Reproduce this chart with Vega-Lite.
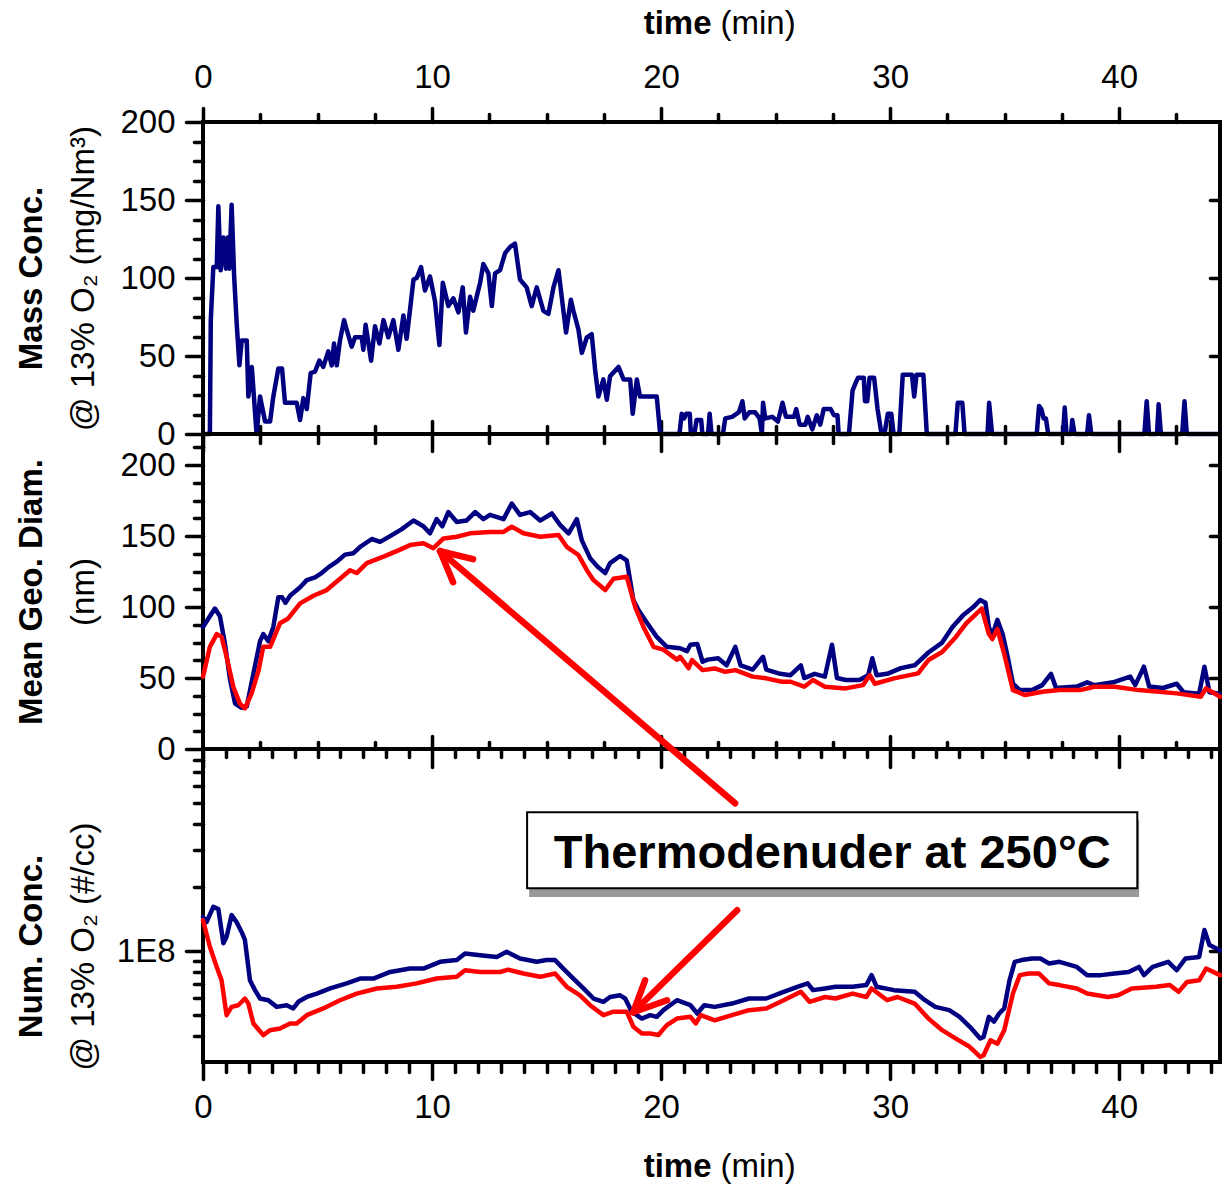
{
"$schema": "https://vega.github.io/schema/vega-lite/v6.json",
"usermeta": {"embedOptions": {"actions": false}},
"padding": {"left": 13, "top": 5, "right": 0, "bottom": 0},
"spacing": 0,
"bounds": "flush",
"config": {
  "view": {"stroke": "black", "strokeWidth": 4},
  "axis": {"domain": false, "grid": false, "tickColor": "black", "tickWidth": 3.5, "tickCap": "round", "labelFont": "Liberation Sans", "labelFontSize": 33, "labelColor": "black", "labelFlush": false, "labelOverlap": false, "labelBound": false, "titleFont": "Liberation Sans", "titleFontSize": 33, "titleColor": "black", "titleFontWeight": "normal"}
},
"datasets": {
  "mass": [
    {"t":0,"v":0},{"t":0.30,"v":0},{"t":0.34,"v":73},{"t":0.45,"v":107},{"t":0.60,"v":107},{"t":0.67,"v":146},{"t":0.77,"v":105},{"t":0.89,"v":126},{"t":1.00,"v":106},{"t":1.08,"v":126},{"t":1.15,"v":106},{"t":1.25,"v":147},{"t":1.36,"v":101},{"t":1.47,"v":71},{"t":1.59,"v":44},{"t":1.69,"v":60},{"t":1.91,"v":60},{"t":1.98,"v":24},{"t":2.13,"v":43},{"t":2.34,"v":0},{"t":2.49,"v":24},{"t":2.71,"v":8},{"t":2.93,"v":8},{"t":3.07,"v":24},{"t":3.29,"v":42},{"t":3.45,"v":42},{"t":3.58,"v":20},{"t":4.09,"v":20},{"t":4.24,"v":9},{"t":4.38,"v":23},{"t":4.53,"v":16},{"t":4.70,"v":39},{"t":4.89,"v":40},{"t":5.08,"v":47},{"t":5.25,"v":43},{"t":5.47,"v":53},{"t":5.62,"v":44},{"t":5.72,"v":58},{"t":5.84,"v":44},{"t":5.98,"v":60},{"t":6.16,"v":73},{"t":6.27,"v":67},{"t":6.49,"v":56},{"t":6.64,"v":62},{"t":6.93,"v":62},{"t":7.00,"v":54},{"t":7.10,"v":70},{"t":7.34,"v":47},{"t":7.51,"v":69},{"t":7.70,"v":58},{"t":7.88,"v":73},{"t":8.09,"v":62},{"t":8.31,"v":73},{"t":8.53,"v":54},{"t":8.75,"v":76},{"t":8.89,"v":61},{"t":9.04,"v":80},{"t":9.19,"v":99},{"t":9.33,"v":100},{"t":9.52,"v":107},{"t":9.69,"v":92},{"t":9.91,"v":101},{"t":10.13,"v":85},{"t":10.32,"v":57},{"t":10.47,"v":97},{"t":10.71,"v":82},{"t":10.93,"v":87},{"t":11.15,"v":78},{"t":11.34,"v":94},{"t":11.48,"v":65},{"t":11.66,"v":88},{"t":11.80,"v":79},{"t":11.98,"v":90},{"t":12.10,"v":97},{"t":12.24,"v":109},{"t":12.46,"v":103},{"t":12.61,"v":82},{"t":12.75,"v":103},{"t":12.97,"v":105},{"t":13.19,"v":116},{"t":13.41,"v":120},{"t":13.62,"v":122},{"t":13.84,"v":99},{"t":14.13,"v":94},{"t":14.35,"v":82},{"t":14.57,"v":94},{"t":14.86,"v":79},{"t":15.08,"v":77},{"t":15.30,"v":94},{"t":15.52,"v":105},{"t":15.66,"v":88},{"t":15.85,"v":65},{"t":16.06,"v":86},{"t":16.17,"v":79},{"t":16.39,"v":67},{"t":16.54,"v":52},{"t":16.76,"v":62},{"t":16.97,"v":64},{"t":17.12,"v":41},{"t":17.26,"v":24},{"t":17.48,"v":35},{"t":17.63,"v":22},{"t":17.77,"v":37},{"t":18.14,"v":43},{"t":18.36,"v":35},{"t":18.65,"v":35},{"t":18.76,"v":13},{"t":18.94,"v":35},{"t":19.08,"v":24},{"t":19.81,"v":24},{"t":19.96,"v":0},{"t":20.80,"v":0},{"t":20.90,"v":13},{"t":21.00,"v":10},{"t":21.10,"v":13},{"t":21.25,"v":13},{"t":21.30,"v":0},{"t":21.45,"v":0},{"t":21.55,"v":9},{"t":21.75,"v":9},{"t":21.80,"v":0},{"t":22.05,"v":0},{"t":22.12,"v":13},{"t":22.20,"v":0},{"t":22.70,"v":0},{"t":22.80,"v":10},{"t":23.10,"v":11},{"t":23.40,"v":14},{"t":23.55,"v":21},{"t":23.65,"v":10},{"t":23.85,"v":14},{"t":24.10,"v":14},{"t":24.30,"v":10},{"t":24.40,"v":0},{"t":24.45,"v":20},{"t":24.55,"v":10},{"t":24.85,"v":11},{"t":25.10,"v":8},{"t":25.30,"v":20},{"t":25.45,"v":11},{"t":25.80,"v":11},{"t":25.90,"v":16},{"t":26.05,"v":6},{"t":26.30,"v":6},{"t":26.40,"v":11},{"t":26.60,"v":3},{"t":26.80,"v":12},{"t":26.95,"v":6},{"t":27.10,"v":16},{"t":27.40,"v":16},{"t":27.55,"v":12},{"t":27.70,"v":12},{"t":27.75,"v":0},{"t":28.20,"v":0},{"t":28.36,"v":28},{"t":28.50,"v":33},{"t":28.60,"v":36},{"t":28.85,"v":36},{"t":28.90,"v":21},{"t":29.00,"v":21},{"t":29.10,"v":36},{"t":29.30,"v":36},{"t":29.45,"v":16},{"t":29.60,"v":2},{"t":29.75,"v":0},{"t":29.90,"v":13},{"t":30.05,"v":13},{"t":30.15,"v":0},{"t":30.40,"v":0},{"t":30.55,"v":38},{"t":30.95,"v":38},{"t":31.05,"v":24},{"t":31.15,"v":38},{"t":31.45,"v":38},{"t":31.60,"v":0},{"t":32.85,"v":0},{"t":32.95,"v":20},{"t":33.15,"v":20},{"t":33.25,"v":0},{"t":34.25,"v":0},{"t":34.32,"v":20},{"t":34.45,"v":0},{"t":36.40,"v":0},{"t":36.50,"v":18},{"t":36.60,"v":16},{"t":36.70,"v":10},{"t":36.80,"v":10},{"t":36.90,"v":0},{"t":37.55,"v":0},{"t":37.62,"v":17},{"t":37.70,"v":0},{"t":37.90,"v":0},{"t":37.95,"v":9},{"t":38.05,"v":0},{"t":38.60,"v":0},{"t":38.68,"v":12},{"t":38.78,"v":0},{"t":41.10,"v":0},{"t":41.20,"v":21},{"t":41.30,"v":0},{"t":41.65,"v":0},{"t":41.72,"v":19},{"t":41.82,"v":0},{"t":42.75,"v":0},{"t":42.85,"v":21},{"t":42.95,"v":0},{"t":44.4,"v":0}
  ],
  "diaB": [
    {"t":0,"v":86},{"t":0.30,"v":93.5},{"t":0.52,"v":99},{"t":0.74,"v":93.5},{"t":0.96,"v":74},{"t":1.18,"v":49},{"t":1.40,"v":32},{"t":1.69,"v":29},{"t":1.91,"v":30},{"t":2.20,"v":53},{"t":2.49,"v":76},{"t":2.63,"v":81},{"t":2.85,"v":76},{"t":3.07,"v":86},{"t":3.29,"v":107},{"t":3.45,"v":107},{"t":3.60,"v":103},{"t":3.80,"v":108},{"t":4.24,"v":114},{"t":4.53,"v":119},{"t":4.89,"v":121},{"t":5.18,"v":124},{"t":5.47,"v":128},{"t":5.84,"v":132},{"t":6.20,"v":137},{"t":6.57,"v":138},{"t":6.86,"v":142.5},{"t":7.37,"v":148},{"t":7.73,"v":146},{"t":8.17,"v":150},{"t":8.68,"v":155},{"t":9.19,"v":161},{"t":9.62,"v":157},{"t":9.91,"v":152},{"t":10.20,"v":162},{"t":10.45,"v":157},{"t":10.71,"v":167},{"t":11.08,"v":160},{"t":11.50,"v":161},{"t":11.88,"v":167},{"t":12.24,"v":162},{"t":12.53,"v":165},{"t":13.12,"v":162},{"t":13.48,"v":173},{"t":13.84,"v":165},{"t":14.28,"v":167},{"t":14.72,"v":161},{"t":15.23,"v":166},{"t":15.59,"v":158},{"t":15.96,"v":152},{"t":16.32,"v":162},{"t":16.54,"v":147},{"t":16.90,"v":134.5},{"t":17.26,"v":128},{"t":17.56,"v":124},{"t":17.77,"v":131},{"t":18.21,"v":136},{"t":18.50,"v":133},{"t":18.79,"v":105},{"t":19.01,"v":98},{"t":19.38,"v":89},{"t":19.81,"v":79},{"t":20.25,"v":72},{"t":20.83,"v":71},{"t":21.13,"v":69},{"t":21.28,"v":73.5},{"t":21.58,"v":74},{"t":21.81,"v":61.5},{"t":22.03,"v":63},{"t":22.49,"v":64},{"t":22.86,"v":59},{"t":23.24,"v":72},{"t":23.47,"v":59},{"t":24.00,"v":56},{"t":24.45,"v":65},{"t":24.59,"v":56},{"t":25.20,"v":53},{"t":25.65,"v":52},{"t":26.10,"v":59},{"t":26.25,"v":50},{"t":26.70,"v":53},{"t":27.15,"v":51},{"t":27.46,"v":73.5},{"t":27.68,"v":50},{"t":28.06,"v":48.6},{"t":28.66,"v":48.6},{"t":29.04,"v":52},{"t":29.22,"v":64},{"t":29.41,"v":52},{"t":29.87,"v":53},{"t":30.47,"v":57},{"t":31.07,"v":59},{"t":31.67,"v":68},{"t":32.27,"v":75},{"t":32.72,"v":86},{"t":33.17,"v":94},{"t":33.63,"v":100},{"t":33.93,"v":105},{"t":34.16,"v":103},{"t":34.31,"v":86},{"t":34.46,"v":80},{"t":34.68,"v":91},{"t":34.91,"v":81},{"t":35.13,"v":65},{"t":35.36,"v":46},{"t":35.66,"v":41.5},{"t":36.19,"v":41.5},{"t":36.64,"v":45},{"t":37.02,"v":53},{"t":37.24,"v":43},{"t":38.15,"v":44},{"t":38.60,"v":47},{"t":38.90,"v":45},{"t":39.73,"v":47},{"t":40.48,"v":51},{"t":40.70,"v":45},{"t":41.08,"v":58},{"t":41.31,"v":44},{"t":41.91,"v":43},{"t":42.51,"v":46},{"t":42.81,"v":40},{"t":43.49,"v":39},{"t":43.72,"v":58},{"t":43.94,"v":40},{"t":44.4,"v":39}
  ],
  "diaR": [
    {"t":0,"v":51},{"t":0.30,"v":72},{"t":0.60,"v":81},{"t":0.81,"v":79},{"t":1.03,"v":65},{"t":1.32,"v":44},{"t":1.61,"v":32},{"t":1.83,"v":28.6},{"t":2.12,"v":39},{"t":2.42,"v":55},{"t":2.63,"v":72},{"t":2.93,"v":72},{"t":3.36,"v":88.6},{"t":3.72,"v":92},{"t":4.24,"v":102.6},{"t":4.82,"v":108},{"t":5.40,"v":112},{"t":5.84,"v":118},{"t":6.42,"v":126},{"t":6.71,"v":124},{"t":7.15,"v":131},{"t":7.88,"v":135.6},{"t":8.53,"v":140},{"t":9.04,"v":143.7},{"t":9.62,"v":145},{"t":10.06,"v":141.5},{"t":10.50,"v":148.4},{"t":11.08,"v":149.6},{"t":11.66,"v":152},{"t":12.53,"v":153},{"t":13.12,"v":153},{"t":13.48,"v":156.7},{"t":13.99,"v":152},{"t":14.72,"v":149.6},{"t":15.52,"v":150.8},{"t":15.88,"v":142.5},{"t":16.39,"v":136.7},{"t":16.76,"v":126},{"t":17.05,"v":119},{"t":17.56,"v":112},{"t":17.92,"v":120},{"t":18.50,"v":121.4},{"t":18.87,"v":100},{"t":19.23,"v":86},{"t":19.67,"v":72},{"t":20.10,"v":70},{"t":20.69,"v":63},{"t":20.83,"v":65},{"t":21.20,"v":57},{"t":21.35,"v":62.7},{"t":21.81,"v":55.6},{"t":22.34,"v":56.8},{"t":22.80,"v":54.4},{"t":23.24,"v":55.6},{"t":24.00,"v":51},{"t":24.59,"v":49.8},{"t":25.27,"v":47.4},{"t":25.65,"v":47.4},{"t":26.25,"v":43.9},{"t":26.63,"v":48.6},{"t":27.15,"v":43.9},{"t":28.06,"v":42.7},{"t":28.81,"v":45},{"t":29.11,"v":52},{"t":29.33,"v":46},{"t":30.17,"v":49.8},{"t":31.22,"v":53.3},{"t":31.67,"v":62.7},{"t":32.27,"v":68.4},{"t":32.87,"v":79},{"t":33.32,"v":88.6},{"t":34.00,"v":99},{"t":34.31,"v":81},{"t":34.46,"v":77.5},{"t":34.68,"v":84.5},{"t":34.98,"v":67},{"t":35.36,"v":41.5},{"t":35.89,"v":38},{"t":36.64,"v":40.4},{"t":37.39,"v":41.5},{"t":38.30,"v":41.5},{"t":38.90,"v":43.9},{"t":39.80,"v":43.9},{"t":40.86,"v":41.5},{"t":42.51,"v":39.2},{"t":43.56,"v":36.8},{"t":43.79,"v":42.7},{"t":44.4,"v":36.8}
  ],
  "numB": [
    {"t":0,"v":1.45e8},{"t":0.15,"v":1.37e8},{"t":0.45,"v":1.62e8},{"t":0.67,"v":1.58e8},{"t":0.89,"v":1.09e8},{"t":1.03,"v":1.17e8},{"t":1.25,"v":1.48e8},{"t":1.47,"v":1.37e8},{"t":1.69,"v":1.23e8},{"t":1.83,"v":1.13e8},{"t":2.05,"v":7.29e7},{"t":2.27,"v":6.55e7},{"t":2.49,"v":5.98e7},{"t":2.85,"v":5.87e7},{"t":3.22,"v":5.46e7},{"t":3.65,"v":5.56e7},{"t":3.94,"v":5.37e7},{"t":4.16,"v":5.77e7},{"t":4.53,"v":6.08e7},{"t":4.97,"v":6.31e7},{"t":5.55,"v":6.67e7},{"t":6.27,"v":7.05e7},{"t":6.86,"v":7.43e7},{"t":7.44,"v":7.43e7},{"t":8.17,"v":7.98e7},{"t":9.04,"v":8.28e7},{"t":9.62,"v":8.28e7},{"t":10.35,"v":8.91e7},{"t":11.08,"v":9.08e7},{"t":11.44,"v":9.75e7},{"t":12.10,"v":9.57e7},{"t":12.82,"v":9.40e7},{"t":13.26,"v":9.93e7},{"t":13.84,"v":9.23e7},{"t":14.57,"v":8.91e7},{"t":15.00,"v":9.08e7},{"t":15.37,"v":9.08e7},{"t":15.73,"v":8.28e7},{"t":16.17,"v":7.43e7},{"t":16.61,"v":6.67e7},{"t":17.05,"v":5.98e7},{"t":17.48,"v":5.77e7},{"t":17.77,"v":6.08e7},{"t":18.21,"v":6.19e7},{"t":18.43,"v":5.98e7},{"t":18.72,"v":5.18e7},{"t":19.16,"v":4.81e7},{"t":19.52,"v":4.99e7},{"t":19.81,"v":4.90e7},{"t":20.10,"v":5.27e7},{"t":20.69,"v":5.87e7},{"t":21.28,"v":5.56e7},{"t":21.58,"v":5.08e7},{"t":21.88,"v":5.56e7},{"t":22.34,"v":5.46e7},{"t":23.09,"v":5.66e7},{"t":23.84,"v":5.98e7},{"t":24.59,"v":5.98e7},{"t":25.35,"v":6.43e7},{"t":25.95,"v":6.79e7},{"t":26.40,"v":7.05e7},{"t":26.63,"v":6.55e7},{"t":27.15,"v":6.67e7},{"t":27.61,"v":6.79e7},{"t":28.36,"v":6.79e7},{"t":28.96,"v":6.92e7},{"t":29.19,"v":7.71e7},{"t":29.41,"v":6.79e7},{"t":30.17,"v":6.55e7},{"t":31.07,"v":6.43e7},{"t":31.52,"v":5.87e7},{"t":31.97,"v":5.46e7},{"t":32.58,"v":5.27e7},{"t":33.03,"v":4.90e7},{"t":33.48,"v":4.40e7},{"t":33.93,"v":3.87e7},{"t":34.08,"v":3.94e7},{"t":34.31,"v":4.90e7},{"t":34.53,"v":4.65e7},{"t":34.76,"v":5.08e7},{"t":34.98,"v":5.37e7},{"t":35.21,"v":7.29e7},{"t":35.44,"v":8.91e7},{"t":35.74,"v":9.08e7},{"t":36.19,"v":9.23e7},{"t":36.56,"v":9.23e7},{"t":36.94,"v":8.75e7},{"t":37.39,"v":8.91e7},{"t":38.15,"v":8.43e7},{"t":38.60,"v":7.71e7},{"t":39.20,"v":7.71e7},{"t":39.80,"v":7.85e7},{"t":40.41,"v":7.98e7},{"t":40.86,"v":8.43e7},{"t":41.08,"v":7.71e7},{"t":41.46,"v":8.43e7},{"t":42.14,"v":8.91e7},{"t":42.51,"v":8.13e7},{"t":42.89,"v":9.23e7},{"t":43.49,"v":9.40e7},{"t":43.72,"v":1.26e8},{"t":43.94,"v":1.07e8},{"t":44.4,"v":1.01e8}
  ],
  "numR": [
    {"t":0,"v":1.40e8},{"t":0.30,"v":1.05e8},{"t":0.60,"v":8.43e7},{"t":0.81,"v":7.29e7},{"t":1.03,"v":4.99e7},{"t":1.25,"v":5.46e7},{"t":1.54,"v":5.56e7},{"t":1.83,"v":5.98e7},{"t":1.98,"v":5.66e7},{"t":2.20,"v":4.56e7},{"t":2.63,"v":4.02e7},{"t":2.93,"v":4.24e7},{"t":3.36,"v":4.32e7},{"t":3.80,"v":4.56e7},{"t":4.09,"v":4.56e7},{"t":4.53,"v":4.99e7},{"t":5.25,"v":5.37e7},{"t":5.98,"v":5.87e7},{"t":6.71,"v":6.31e7},{"t":7.59,"v":6.67e7},{"t":8.46,"v":6.79e7},{"t":9.33,"v":7.05e7},{"t":10.20,"v":7.43e7},{"t":11.08,"v":7.57e7},{"t":11.44,"v":8.13e7},{"t":12.10,"v":7.98e7},{"t":12.97,"v":7.98e7},{"t":13.33,"v":8.18e7},{"t":13.99,"v":7.85e7},{"t":14.72,"v":7.57e7},{"t":15.37,"v":7.85e7},{"t":15.88,"v":6.79e7},{"t":16.46,"v":6.19e7},{"t":16.90,"v":5.56e7},{"t":17.48,"v":4.99e7},{"t":17.92,"v":5.18e7},{"t":18.50,"v":5.18e7},{"t":18.79,"v":4.40e7},{"t":19.16,"v":4.09e7},{"t":19.52,"v":4.09e7},{"t":19.88,"v":4.02e7},{"t":20.25,"v":4.48e7},{"t":20.69,"v":4.81e7},{"t":21.28,"v":4.90e7},{"t":21.51,"v":4.56e7},{"t":21.73,"v":4.99e7},{"t":22.34,"v":4.72e7},{"t":23.09,"v":4.99e7},{"t":23.84,"v":5.27e7},{"t":24.59,"v":5.37e7},{"t":25.35,"v":5.87e7},{"t":26.10,"v":6.43e7},{"t":26.48,"v":5.77e7},{"t":27.16,"v":6.08e7},{"t":27.61,"v":5.98e7},{"t":28.36,"v":6.31e7},{"t":28.96,"v":6.08e7},{"t":29.19,"v":6.67e7},{"t":29.87,"v":5.87e7},{"t":30.32,"v":6.08e7},{"t":31.07,"v":5.66e7},{"t":31.67,"v":4.81e7},{"t":32.27,"v":4.24e7},{"t":32.87,"v":3.87e7},{"t":33.47,"v":3.54e7},{"t":33.93,"v":3.17e7},{"t":34.08,"v":3.23e7},{"t":34.38,"v":3.80e7},{"t":34.68,"v":3.66e7},{"t":34.98,"v":4.24e7},{"t":35.36,"v":6.31e7},{"t":35.66,"v":7.71e7},{"t":36.04,"v":7.85e7},{"t":36.49,"v":7.85e7},{"t":36.94,"v":7.05e7},{"t":37.39,"v":6.92e7},{"t":38.15,"v":6.67e7},{"t":38.60,"v":6.31e7},{"t":39.50,"v":6.08e7},{"t":39.95,"v":6.19e7},{"t":40.55,"v":6.67e7},{"t":41.61,"v":6.79e7},{"t":42.21,"v":6.92e7},{"t":42.59,"v":6.43e7},{"t":42.96,"v":7.16e7},{"t":43.49,"v":7.29e7},{"t":43.79,"v":8.28e7},{"t":44.4,"v":7.71e7}
  ],
  "shadow": [{"x1":14.24,"x2":40.87,"y1":4.15e8,"y2":1.80e8}],
  "box": [{"x1":14.15,"x2":40.79,"y1":4.53e8,"y2":1.98e8}],
  "label": [{"t":27.47,"v":2.47e8,"text":"Thermodenuder at 250°C"}],
  "arrows": [
    {"x1":23.23,"y1":4.99e8,"x2":10.35,"y2":7.73e9},
    {"x1":10.35,"y1":7.73e9,"x2":11.79,"y2":7.08e9},
    {"x1":10.35,"y1":7.73e9,"x2":10.92,"y2":5.51e9},
    {"x1":23.32,"y1":1.56e8,"x2":18.78,"y2":5.15e7},
    {"x1":18.78,"y1":5.15e7,"x2":20.26,"y2":5.87e7},
    {"x1":18.78,"y1":5.15e7,"x2":19.30,"y2":7.29e7}
  ]
},
"vconcat": [
  {
    "width": 1017, "height": 312,
    "resolve": {"axis": {"x": "independent", "y": "independent"}},
    "layer": [
      {
        "data": {"name": "mass"},
        "mark": {"type": "line", "color": "#000080", "strokeWidth": 4.5, "strokeJoin": "round", "strokeCap": "round"},
        "encoding": {
          "x": {"field": "t", "type": "quantitative", "scale": {"domain": [0, 44.4], "nice": false, "zero": false},
                "axis": {"orient": "top", "values": [0,10,20,30,40], "tickSize": 14, "labelPadding": 21, "labelBaseline": "alphabetic", "title": "(min)", "titleAngle": 0, "titleAlign": "left", "titleBaseline": "alphabetic", "titleX": 517, "titleY": -89}},
          "y": {"field": "v", "type": "quantitative", "scale": {"domain": [0, 200], "nice": false, "zero": false},
                "axis": {"orient": "left", "values": [0,50,100,150,200], "tickSize": 17, "labelPadding": 11, "title": "@ 13% O₂ (mg/Nm³)", "titleAngle": 270, "titleAlign": "center", "titleBaseline": "middle", "titleX": -120, "titleY": 156}}
        }
      },
      {
        "data": {"name": "mass"},
        "mark": {"type": "line", "opacity": 0},
        "encoding": {
          "x": {"field": "t", "type": "quantitative", "scale": {"domain": [0, 44.4], "nice": false, "zero": false},
                "axis": {"orient": "top", "values": [2.5,5,7.5,12.5,15,17.5,22.5,25,27.5,32.5,35,37.5,42.5], "tickSize": 8, "labels": false, "title": "time", "titleFontWeight": "bold", "titleAngle": 0, "titleAlign": "right", "titleBaseline": "alphabetic", "titleX": 508, "titleY": -89}},
          "y": {"field": "v", "type": "quantitative", "scale": {"domain": [0, 200], "nice": false, "zero": false},
                "axis": {"orient": "left", "values": [12.5,25,37.5,62.5,75,87.5,112.5,125,137.5,162.5,175,187.5], "tickSize": 9, "labels": false, "title": "Mass Conc.", "titleFontWeight": "bold", "titleAngle": 270, "titleAlign": "center", "titleBaseline": "middle", "titleX": -172, "titleY": 156}}
        }
      },
      {
        "data": {"name": "mass"},
        "mark": {"type": "line", "opacity": 0},
        "encoding": {
          "x": {"field": "t", "type": "quantitative", "scale": {"domain": [0, 44.4], "nice": false, "zero": false},
                "axis": {"orient": "bottom", "values": [10,20,30,40], "tickSize": -13, "labels": false, "title": null}},
          "y": {"field": "v", "type": "quantitative", "scale": {"domain": [0, 200], "nice": false, "zero": false},
                "axis": {"orient": "right", "values": [50,100,150], "tickSize": -10, "labels": false, "title": null}}
        }
      },
      {
        "data": {"name": "mass"},
        "mark": {"type": "line", "opacity": 0},
        "encoding": {
          "x": {"field": "t", "type": "quantitative", "scale": {"domain": [0, 44.4], "nice": false, "zero": false},
                "axis": {"orient": "bottom", "values": [2.5,5,7.5,12.5,15,17.5,22.5,25,27.5,32.5,35,37.5,42.5], "tickSize": -8, "labels": false, "title": null}},
          "y": {"field": "v", "type": "quantitative", "scale": {"domain": [0, 200], "nice": false, "zero": false}, "axis": null}
        }
      }
    ]
  },
  {
    "width": 1017, "height": 315,
    "resolve": {"axis": {"x": "independent", "y": "independent"}},
    "layer": [
      {
        "data": {"name": "diaB"},
        "mark": {"type": "line", "color": "#000080", "strokeWidth": 4.5, "strokeJoin": "round", "strokeCap": "round"},
        "encoding": {
          "x": {"field": "t", "type": "quantitative", "scale": {"domain": [0, 44.4], "nice": false, "zero": false},
                "axis": {"orient": "top", "values": [0,10,20,30,40], "tickSize": -17, "labels": false, "title": null}},
          "y": {"field": "v", "type": "quantitative", "scale": {"domain": [0, 222], "nice": false, "zero": false},
                "axis": {"orient": "left", "values": [0,50,100,150,200], "tickSize": 17, "labelPadding": 11, "title": "(nm)", "titleAngle": 270, "titleAlign": "center", "titleBaseline": "middle", "titleX": -120, "titleY": 157.5}}
        }
      },
      {
        "data": {"name": "diaR"},
        "mark": {"type": "line", "color": "#FF0000", "strokeWidth": 4.5, "strokeJoin": "round", "strokeCap": "round"},
        "encoding": {
          "x": {"field": "t", "type": "quantitative", "scale": {"domain": [0, 44.4], "nice": false, "zero": false},
                "axis": {"orient": "top", "values": [2.5,5,7.5,12.5,15,17.5,22.5,25,27.5,32.5,35,37.5,42.5], "tickSize": -9, "labels": false, "title": null}},
          "y": {"field": "v", "type": "quantitative", "scale": {"domain": [0, 222], "nice": false, "zero": false},
                "axis": {"orient": "left", "values": [12.5,25,37.5,62.5,75,87.5,112.5,125,137.5,162.5,175,187.5,212.5], "tickSize": 9, "labels": false, "title": "Mean Geo. Diam.", "titleFontWeight": "bold", "titleAngle": 270, "titleAlign": "center", "titleBaseline": "middle", "titleX": -172, "titleY": 157.5}}
        }
      },
      {
        "data": {"name": "diaB"},
        "mark": {"type": "line", "opacity": 0},
        "encoding": {
          "x": {"field": "t", "type": "quantitative", "scale": {"domain": [0, 44.4], "nice": false, "zero": false},
                "axis": {"orient": "bottom", "values": [10,20,30,40], "tickSize": -13, "labels": false, "title": null}},
          "y": {"field": "v", "type": "quantitative", "scale": {"domain": [0, 222], "nice": false, "zero": false},
                "axis": {"orient": "right", "values": [50,100,150,200], "tickSize": -10, "labels": false, "title": null}}
        }
      },
      {
        "data": {"name": "diaB"},
        "mark": {"type": "line", "opacity": 0},
        "encoding": {
          "x": {"field": "t", "type": "quantitative", "scale": {"domain": [0, 44.4], "nice": false, "zero": false},
                "axis": {"orient": "bottom", "values": [2.5,5,7.5,12.5,15,17.5,22.5,25,27.5,32.5,35,37.5,42.5], "tickSize": -7, "labels": false, "title": null}},
          "y": {"field": "v", "type": "quantitative", "scale": {"domain": [0, 222], "nice": false, "zero": false}, "axis": null}
        }
      }
    ]
  },
  {
    "width": 1017, "height": 313,
    "resolve": {"axis": {"x": "independent", "y": "independent"}},
    "layer": [
      {
        "data": {"name": "numB"},
        "mark": {"type": "line", "color": "#000080", "strokeWidth": 4.5, "strokeJoin": "round", "strokeCap": "round"},
        "encoding": {
          "x": {"field": "t", "type": "quantitative", "scale": {"domain": [0, 44.4], "nice": false, "zero": false},
                "axis": {"orient": "bottom", "values": [0,10,20,30,40], "tickSize": 17, "labelPadding": 38, "labelBaseline": "alphabetic", "title": "(min)", "titleAngle": 0, "titleAlign": "left", "titleBaseline": "alphabetic", "titleX": 517, "titleY": 114}},
          "y": {"field": "v", "type": "quantitative", "scale": {"type": "log", "domain": [3e7, 9e8], "nice": false},
                "axis": {"orient": "left", "values": [1e8], "labelExpr": "'1E8'", "tickSize": 17, "labelPadding": 11, "title": "@ 13% O₂ (#/cc)", "titleAngle": 270, "titleAlign": "center", "titleBaseline": "middle", "titleX": -120, "titleY": 197}}
        }
      },
      {
        "data": {"name": "numR"},
        "mark": {"type": "line", "color": "#FF0000", "strokeWidth": 4.5, "strokeJoin": "round", "strokeCap": "round"},
        "encoding": {
          "x": {"field": "t", "type": "quantitative", "scale": {"domain": [0, 44.4], "nice": false, "zero": false},
                "axis": {"orient": "bottom", "values": [1,2,3,4,5,6,7,8,9,11,12,13,14,15,16,17,18,19,21,22,23,24,25,26,27,28,29,31,32,33,34,35,36,37,38,39,41,42,43,44], "tickSize": 10, "labels": false, "title": "time", "titleFontWeight": "bold", "titleAngle": 0, "titleAlign": "right", "titleBaseline": "alphabetic", "titleX": 508, "titleY": 114}},
          "y": {"field": "v", "type": "quantitative", "scale": {"type": "log", "domain": [3e7, 9e8], "nice": false},
                "axis": {"orient": "left", "values": [4e7,5e7,6e7,7e7,8e7,9e7,2e8,3e8,4e8,5e8,6e8,7e8,8e8], "tickSize": 9, "labels": false, "title": "Num. Conc.", "titleFontWeight": "bold", "titleAngle": 270, "titleAlign": "center", "titleBaseline": "middle", "titleX": -172, "titleY": 197}}
        }
      },
      {
        "data": {"name": "numB"},
        "mark": {"type": "line", "opacity": 0},
        "encoding": {
          "x": {"field": "t", "type": "quantitative", "scale": {"domain": [0, 44.4], "nice": false, "zero": false},
                "axis": {"orient": "top", "values": [0,10,20,30,40], "tickSize": -18, "labels": false, "title": null}},
          "y": {"field": "v", "type": "quantitative", "scale": {"type": "log", "domain": [3e7, 9e8], "nice": false},
                "axis": {"orient": "right", "values": [1e8], "tickSize": -10, "labels": false, "title": null}}
        }
      },
      {
        "data": {"name": "numB"},
        "mark": {"type": "line", "opacity": 0},
        "encoding": {
          "x": {"field": "t", "type": "quantitative", "scale": {"domain": [0, 44.4], "nice": false, "zero": false},
                "axis": {"orient": "top", "values": [1,2,3,4,5,6,7,8,9,11,12,13,14,15,16,17,18,19,21,22,23,24,25,26,27,28,29,31,32,33,34,35,36,37,38,39,41,42,43,44], "tickSize": -8, "labels": false, "title": null}},
          "y": {"field": "v", "type": "quantitative", "scale": {"type": "log", "domain": [3e7, 9e8], "nice": false}, "axis": null}
        }
      },
      {
        "data": {"name": "arrows"},
        "mark": {"type": "rule", "color": "#FF0000", "strokeWidth": 6.5, "strokeCap": "round"},
        "encoding": {
          "x": {"field": "x1", "type": "quantitative", "scale": {"domain": [0, 44.4], "nice": false, "zero": false}, "axis": null},
          "x2": {"field": "x2"},
          "y": {"field": "y1", "type": "quantitative", "scale": {"type": "log", "domain": [3e7, 9e8], "nice": false}, "axis": null},
          "y2": {"field": "y2"}
        }
      },
      {
        "data": {"name": "shadow"},
        "mark": {"type": "rect", "fill": "#999999"},
        "encoding": {
          "x": {"field": "x1", "type": "quantitative", "scale": {"domain": [0, 44.4], "nice": false, "zero": false}, "axis": null},
          "x2": {"field": "x2"},
          "y": {"field": "y1", "type": "quantitative", "scale": {"type": "log", "domain": [3e7, 9e8], "nice": false}, "axis": null},
          "y2": {"field": "y2"}
        }
      },
      {
        "data": {"name": "box"},
        "mark": {"type": "rect", "fill": "white", "stroke": "black", "strokeWidth": 2},
        "encoding": {
          "x": {"field": "x1", "type": "quantitative", "scale": {"domain": [0, 44.4], "nice": false, "zero": false}, "axis": null},
          "x2": {"field": "x2"},
          "y": {"field": "y1", "type": "quantitative", "scale": {"type": "log", "domain": [3e7, 9e8], "nice": false}, "axis": null},
          "y2": {"field": "y2"}
        }
      },
      {
        "data": {"name": "label"},
        "mark": {"type": "text", "font": "Liberation Sans", "fontSize": 47, "fontWeight": "bold", "align": "center", "baseline": "alphabetic", "color": "black"},
        "encoding": {
          "x": {"field": "t", "type": "quantitative", "scale": {"domain": [0, 44.4], "nice": false, "zero": false}, "axis": null},
          "y": {"field": "v", "type": "quantitative", "scale": {"type": "log", "domain": [3e7, 9e8], "nice": false}, "axis": null},
          "text": {"field": "text"}
        }
      }
    ]
  }
]
}
